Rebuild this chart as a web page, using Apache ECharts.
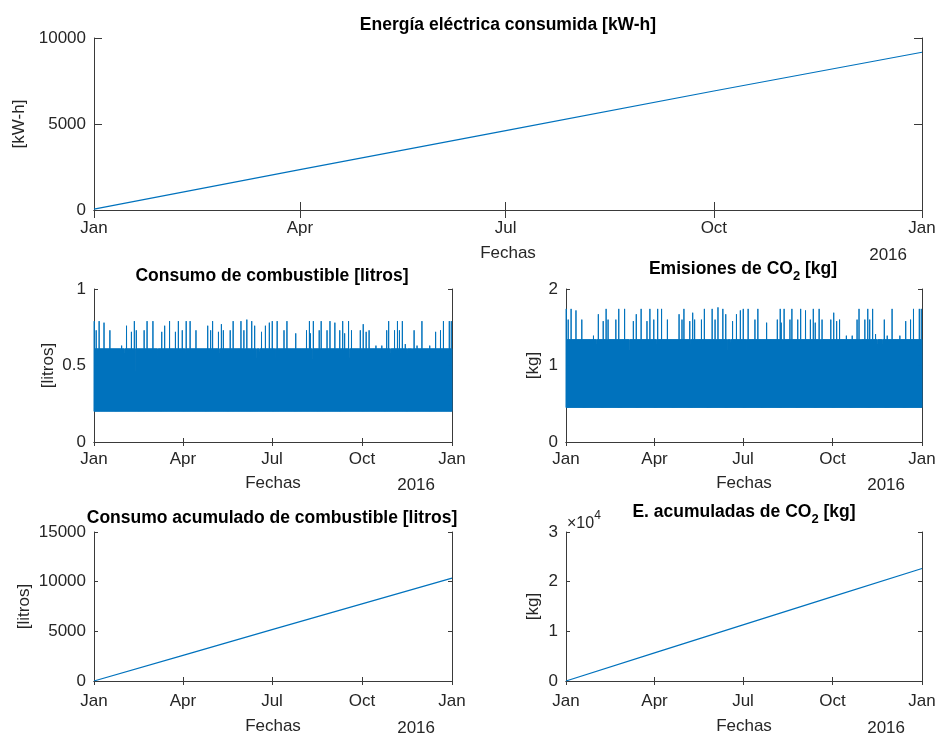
<!DOCTYPE html>
<html>
<head>
<meta charset="utf-8">
<script src="https://cdn.jsdelivr.net/npm/echarts@6/dist/echarts.min.js"></script>
<style>
    html, body { margin: 0; padding: 0; background: #fff; }
    #main { width: 940px; height: 734px; }
</style>
</head>
<body>
<div id="main"></div>
<script>
// ticks del eje de fechas
let tickDates = [[2016, 0, 1], [2016, 3, 1], [2016, 6, 1], [2016, 9, 1], [2017, 0, 1]];
let tickLabels = ['Jan', 'Apr', 'Jul', 'Oct', 'Jan'];
let yearLabel = '2016';

let energyCum = [50, 2350, 4610, 6920, 9170];
let fuelCum = [0, 2580, 5170, 7760, 10350];
let co2Cum = [0, 5650, 11300, 16990, 22650];

// consumo horario: banda entre el minimo y el maximo de cada dia
let fuelLow = 0.2;
let fuelBase = 0.61;
// [dia, maximo] donde el maximo se aparta de la base
let fuelPeaks = [
    [0, 0.79], [2, 0.73], [5, 0.79], [10, 0.78], [16, 0.73], [28, 0.63], [31, 0.58], [33, 0.76], [38, 0.72],
    [41, 0.79], [42, 0.46], [43, 0.73], [51, 0.73], [54, 0.79], [60, 0.79], [65, 0.55], [69, 0.72], [72, 0.76],
    [77, 0.79], [83, 0.72], [86, 0.79], [90, 0.73], [93, 0.58], [94, 0.79], [98, 0.79], [104, 0.73], [116, 0.76],
    [119, 0.73], [121, 0.79], [127, 0.72], [128, 0.58], [130, 0.77], [132, 0.73], [139, 0.73], [142, 0.79],
    [150, 0.79], [153, 0.73], [154, 0.55], [156, 0.80], [161, 0.79], [164, 0.76], [166, 0.55], [169, 0.59],
    [171, 0.72], [175, 0.76], [179, 0.78], [182, 0.79], [185, 0.55], [187, 0.79], [194, 0.73], [197, 0.79],
    [206, 0.71], [217, 0.73], [220, 0.79], [221, 0.71], [223, 0.54], [224, 0.79], [230, 0.73], [232, 0.79],
    [238, 0.73], [241, 0.79], [246, 0.78], [251, 0.73], [254, 0.79], [256, 0.71], [260, 0.79], [261, 0.55],
    [263, 0.73], [272, 0.73], [275, 0.77], [278, 0.72], [281, 0.73], [288, 0.63], [294, 0.63], [299, 0.73],
    [301, 0.79], [303, 0.58], [307, 0.73], [310, 0.79], [312, 0.73], [315, 0.79], [318, 0.64], [320, 0.58],
    [325, 0.58], [327, 0.73], [330, 0.63], [335, 0.79], [343, 0.63], [349, 0.72], [354, 0.73], [357, 0.79],
    [363, 0.79], [365, 0.79]
];

let co2Low = 0.45;
let co2Base = 1.34;
let co2Peaks = [
    [0, 1.74], [2, 1.60], [5, 1.74], [10, 1.72], [16, 1.60], [28, 1.39], [31, 1.28], [33, 1.67], [38, 1.58],
    [41, 1.74], [42, 1.00], [43, 1.60], [51, 1.60], [54, 1.74], [60, 1.74], [65, 1.20], [69, 1.58], [72, 1.67],
    [77, 1.74], [83, 1.58], [86, 1.74], [90, 1.60], [93, 1.28], [94, 1.74], [98, 1.74], [104, 1.60], [116, 1.67],
    [119, 1.60], [121, 1.74], [127, 1.58], [128, 1.28], [130, 1.69], [132, 1.60], [139, 1.60], [142, 1.74],
    [150, 1.74], [153, 1.60], [154, 1.20], [156, 1.76], [161, 1.74], [164, 1.67], [166, 1.20], [169, 1.30],
    [171, 1.58], [175, 1.67], [179, 1.72], [182, 1.74], [185, 1.20], [187, 1.74], [194, 1.60], [197, 1.74],
    [206, 1.56], [217, 1.60], [220, 1.74], [221, 1.56], [223, 1.18], [224, 1.74], [230, 1.60], [232, 1.74],
    [238, 1.60], [241, 1.74], [246, 1.72], [251, 1.60], [254, 1.74], [256, 1.56], [260, 1.74], [261, 1.20],
    [263, 1.60], [272, 1.60], [275, 1.69], [278, 1.58], [281, 1.60], [288, 1.39], [294, 1.39], [299, 1.60],
    [301, 1.74], [303, 1.28], [307, 1.60], [310, 1.74], [312, 1.60], [315, 1.74], [318, 1.41], [320, 1.28],
    [325, 1.28], [327, 1.60], [330, 1.39], [335, 1.74], [343, 1.39], [349, 1.58], [354, 1.60], [357, 1.74],
    [363, 1.74], [365, 1.74]
];

let blue = '#0072BD';
let ink = '#262626';
let font = '"Liberation Sans", Arial, Helvetica, sans-serif';
let dayMs = 86400000;
let hourMs = 3600000;

let ticks = tickDates.map(d => Date.UTC(d[0], d[1], d[2]));
let t0 = ticks[0];
let t1 = ticks[ticks.length - 1];
let nDays = Math.round((t1 - t0) / dayMs);

// serie en zigzag: dos ciclos por dia (minimo, maximo del dia, minimo, base)
let band = (low, base, peaks) => {
    let peakOf = {};
    peaks.forEach(p => { peakOf[p[0]] = p[1]; });
    let out = [];
    for (let d = 0; d < nDays; d++) {
        let t = t0 + d * dayMs;
        out.push([t, low]);
        out.push([t + 6 * hourMs, peakOf[d] !== undefined ? peakOf[d] : base]);
        out.push([t + 12 * hourMs, low]);
        out.push([t + 18 * hourMs, base]);
    }
    out.push([t1, low]);
    return out;
};

let cum = values => ticks.map((t, i) => [t, values[i]]);

let grids = [
    { left: 94, top: 38, width: 828, height: 172 },
    { left: 94, top: 289, width: 358, height: 153 },
    { left: 566, top: 289, width: 356, height: 153 },
    { left: 94, top: 532, width: 358, height: 149 },
    { left: 566, top: 532, width: 356, height: 149 }
];

// por grafico: escala y, nombre del eje y, separaciones
let panels = [
    { max: 10000, interval: 5000, name: '[kW-h]', nameGap: 59, tick: 8, xMargin: 10, xNameGap: 35 },
    { max: 1, interval: 0.5, name: '[litros]', nameGap: 37, tick: 4, xMargin: 9, xNameGap: 33 },
    { max: 2, interval: 1, name: '[kg]', nameGap: 24, tick: 4, xMargin: 9, xNameGap: 33 },
    { max: 15000, interval: 5000, name: '[litros]', nameGap: 61, tick: 4, xMargin: 12, xNameGap: 37 },
    { max: 30000, interval: 10000, name: '[kg]', nameGap: 24, tick: 4, xMargin: 12, xNameGap: 37, div: 10000 }
];

let axisLine = { show: true, lineStyle: { color: '#3a3a3a', width: 1 } };
let labelStyle = { fontSize: 17, color: ink, fontFamily: font };

let monthOf = v => {
    let k = 0;
    ticks.forEach((t, j) => { if (Math.abs(t - v) < Math.abs(ticks[k] - v)) k = j; });
    return tickLabels[k];
};

let xAxes = [];
let yAxes = [];
panels.forEach((p, i) => {
    let tickStyle = { show: true, inside: true, length: p.tick, lineStyle: { color: '#3a3a3a', width: 1 } };
    xAxes.push({
        gridIndex: i, type: 'value', min: t0, max: t1, position: 'bottom',
        axisLine: axisLine,
        axisTick: { ...tickStyle, customValues: ticks },
        axisLabel: { ...labelStyle, margin: p.xMargin, customValues: ticks, formatter: monthOf },
        splitLine: { show: false },
        name: 'Fechas', nameLocation: 'middle', nameGap: p.xNameGap, nameTextStyle: labelStyle
    });
    xAxes.push({
        gridIndex: i, type: 'value', min: t0, max: t1, position: 'top',
        axisLine: axisLine,
        axisTick: { ...tickStyle, customValues: ticks },
        axisLabel: { show: false },
        splitLine: { show: false }
    });
    yAxes.push({
        gridIndex: i, type: 'value', min: 0, max: p.max, interval: p.interval, position: 'left',
        axisLine: axisLine,
        axisTick: tickStyle,
        axisLabel: { ...labelStyle, margin: 8, formatter: v => String(p.div ? v / p.div : v) },
        splitLine: { show: false },
        name: p.name, nameLocation: 'middle', nameGap: p.nameGap, nameRotate: 90, nameTextStyle: labelStyle
    });
    yAxes.push({
        gridIndex: i, type: 'value', min: 0, max: p.max, interval: p.interval, position: 'right',
        axisLine: axisLine,
        axisTick: tickStyle,
        axisLabel: { show: false },
        splitLine: { show: false }
    });
});

let lineSeries = (i, data, width) => ({
    type: 'line', xAxisIndex: 2 * i, yAxisIndex: 2 * i, data: data,
    showSymbol: false, symbol: 'none', silent: true,
    lineStyle: { color: blue, width: width },
    emphasis: { disabled: true }
});

let titleStyle = {
    fontSize: 17.5, fontWeight: 'bold', color: '#000', fontFamily: font, lineHeight: 20,
    rich: {
        t: { fontSize: 17.5, fontWeight: 'bold', color: '#000', fontFamily: font, lineHeight: 20, verticalAlign: 'top' },
        s: { fontSize: 13, fontWeight: 'bold', color: '#000', fontFamily: font, lineHeight: 13, verticalAlign: 'top', padding: [10, 0, 0, 0] }
    }
};
let yearStyle = { fontSize: 17, fontWeight: 'normal', color: ink, fontFamily: font, lineHeight: 20 };

let titles = [
    { text: 'Energía eléctrica consumida [kW-h]', left: 508, top: 15 },
    { text: 'Consumo de combustible [litros]', left: 272, top: 266 },
    { text: '{t|Emisiones de CO}{s|2}{t| [kg]}', left: 743, top: 260 },
    { text: 'Consumo acumulado de combustible [litros]', left: 272, top: 508 },
    { text: '{t|E. acumuladas de CO}{s|2}{t| [kg]}', left: 744, top: 503 }
].map(t => ({ ...t, textAlign: 'center', padding: 0, textStyle: titleStyle }));

let years = [
    { left: 907, top: 245 }, { left: 435, top: 475 }, { left: 905, top: 475 },
    { left: 435, top: 718 }, { left: 905, top: 718 }
].map(y => ({ ...y, text: yearLabel, textAlign: 'right', padding: 0, textStyle: yearStyle }));

let exponent = {
    text: '{a|×10}{e|4}', left: 567, top: 510, textAlign: 'left', padding: 0,
    textStyle: {
        fontWeight: 'normal',
        rich: {
            a: { fontSize: 16, fontWeight: 'normal', color: ink, fontFamily: font, lineHeight: 22, verticalAlign: 'bottom' },
            e: { fontSize: 12, fontWeight: 'normal', color: ink, fontFamily: font, lineHeight: 12, verticalAlign: 'top' }
        }
    }
};

let option = {
    animation: false,
    backgroundColor: '#fff',
    title: [...titles, ...years, exponent],
    grid: grids.map(g => ({ ...g, containLabel: false, outerBoundsMode: 'none' })),
    xAxis: xAxes,
    yAxis: yAxes,
    series: [
        lineSeries(0, cum(energyCum), 1.2),
        lineSeries(1, band(fuelLow, fuelBase, fuelPeaks), 1),
        lineSeries(2, band(co2Low, co2Base, co2Peaks), 1),
        lineSeries(3, cum(fuelCum), 1.2),
        lineSeries(4, cum(co2Cum), 1.2)
    ]
};

let chart = echarts.init(document.getElementById('main'), null, { renderer: 'canvas' });
chart.setOption(option);
</script>
</body>
</html>
